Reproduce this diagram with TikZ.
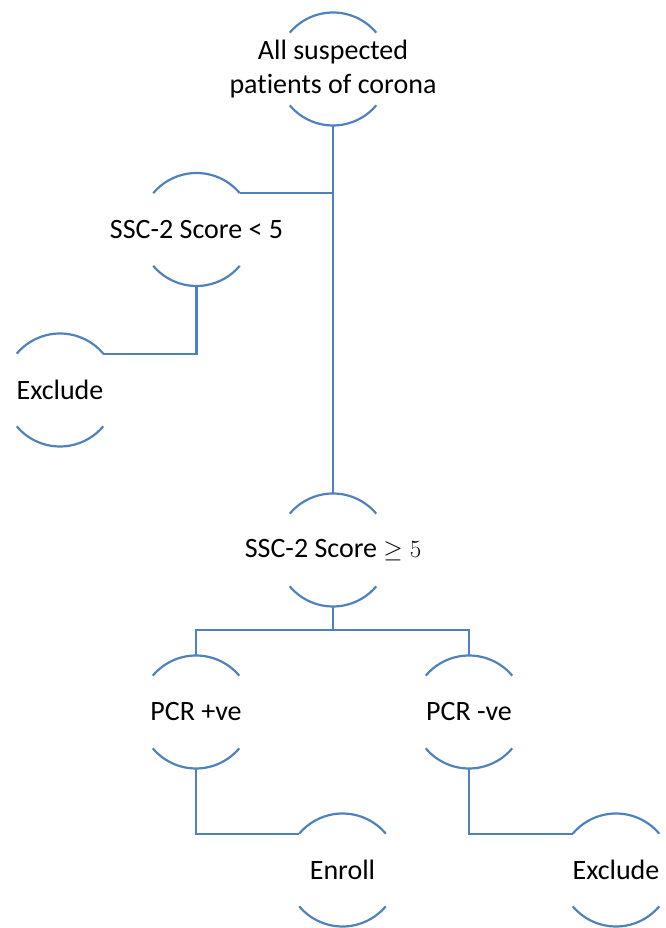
\documentclass[tikz,border=0pt]{standalone}
\usepackage{fontspec}
\setmainfont{Carlito}[Ligatures={NoCommon}]
\definecolor{lnblue}{RGB}{79,129,189}
\begin{document}
\begin{tikzpicture}[x=1pt,y=1pt,
  circ/.style={circle,draw=none,minimum size=113pt,inner sep=0pt,outer sep=0pt},
  txt/.style={align=center,font=\fontsize{28}{34}\selectfont,inner sep=0pt},
  ln/.style={draw=lnblue,line width=2.2pt}]
\useasboundingbox (0,0) rectangle (665,928);
% nodes
\node[circ] (top) at (333,859) {};
\node[circ] (lt5) at (196.5,698.5) {};
\node[circ] (ex1) at (60,538) {};
\node[circ] (ge5) at (333,378) {};
\node[circ] (pos) at (196,216) {};
\node[circ] (neg) at (469,216) {};
\node[circ] (enr) at (342.5,58) {};
\node[circ] (ex2) at (616,58) {};
% arcs
\foreach \n in {top,lt5,ex1,ge5,pos,neg,enr,ex2}{
  \draw[ln] (\n.40) arc[start angle=40,end angle=140,radius=56.5pt];
  \draw[ln] (\n.220) arc[start angle=220,end angle=320,radius=56.5pt];
}
% texts
\node[txt] (topt) at (top) {All suspected\\patients of corona};
\node[txt] (lt5t) at (lt5) {SSC-2 Score < 5};
\node[txt] (ex1t) at (ex1) {Exclude};
\node[txt] (ge5t) at (ge5) {SSC-2 Score $\geq 5$};
\node[txt] (post) at (pos) {PCR +ve};
\node[txt] (negt) at (neg) {PCR -ve};
\node[txt] (enrt) at (enr) {Enroll};
\node[txt] (ex2t) at (ex2) {Exclude};
% connectors
\coordinate (bar) at (333,298);
\draw[ln] (top.south) -- (ge5.north);
\draw[ln] (lt5.40) -- (top.south |- lt5.40);
\draw[ln] (lt5.south) |- (ex1.40);
\draw[ln] (ge5.south) -- (bar);
\draw[ln] (pos.north) |- (bar);
\draw[ln] (neg.north) |- (bar);
\draw[ln] (pos.south) |- (enr.140);
\draw[ln] (neg.south) |- (ex2.140);
\end{tikzpicture}
\end{document}
